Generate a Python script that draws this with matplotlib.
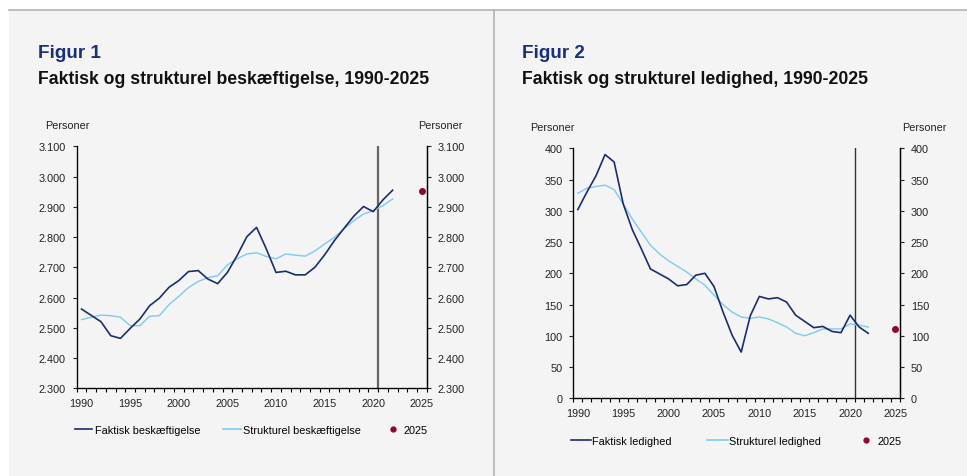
import matplotlib
matplotlib.use("Agg")
import matplotlib.pyplot as plt
from matplotlib.ticker import FuncFormatter, MultipleLocator, FixedLocator
from matplotlib.lines import Line2D
from matplotlib.patches import Rectangle

plt.rcParams['font.family'] = ['Liberation Sans', 'DejaVu Sans']

years = list(range(1990, 2023))

# Figur 1: beskæftigelse (1.000 personer)
faktisk_besk = [2562, 2541, 2520, 2474, 2465, 2498, 2529, 2573, 2598, 2634,
                2656, 2686, 2689, 2661, 2646, 2683, 2739, 2801, 2832, 2761,
                2683, 2687, 2675, 2675, 2700, 2741, 2788, 2829, 2869, 2901,
                2884, 2923, 2955]
struk_besk = [2527, 2535, 2542, 2540, 2535, 2507, 2507, 2538, 2540, 2577,
              2604, 2633, 2653, 2666, 2672, 2708, 2728, 2744, 2748, 2736,
              2728, 2744, 2740, 2737, 2754, 2777, 2799, 2827, 2854, 2876,
              2887, 2904, 2926]
besk_2025 = 2951

# Figur 2: ledighed (1.000 personer)
faktisk_led = [302, 330, 356, 390, 378, 311, 270, 239, 207, 199,
               191, 180, 182, 197, 200, 179, 138, 101, 74, 132,
               163, 159, 161, 154, 133, 123, 113, 115, 107, 105,
               133, 114, 104]
struk_led = [328, 336, 339, 341, 334, 311, 287, 266, 245, 231,
             220, 211, 202, 191, 181, 165, 150, 138, 130, 128,
             130, 127, 121, 114, 104, 100, 105, 111, 111, 111,
             119, 117, 114]
led_2025 = 111

NAVY = '#1c2d6e'
LIGHT = '#7ccbee'
RED = '#8c0a2c'
TITLE = '#1a3177'
BG = '#f4f4f4'
FS = 7.8

W, H = 967, 477
fig = plt.figure(figsize=(W / 100, H / 100), dpi=100, facecolor='white')

# background panel, top rule and divider
fig.patches.append(Rectangle((9 / W, 0), 1, (H - 11) / H, transform=fig.transFigure,
                             facecolor=BG, edgecolor='none', zorder=-10))
fig.lines.append(Line2D([9 / W, 1], [(H - 11) / H] * 2, transform=fig.transFigure,
                        color='#b4b4b4', lw=1.2, zorder=-5))
fig.lines.append(Line2D([494 / W] * 2, [0, (H - 11) / H], transform=fig.transFigure,
                        color='#b4b4b4', lw=1.2, zorder=-5))


def dk(v, pos):
    return f"{int(v):,}".replace(",", ".")


def panel(box, ylim, ystep, fakt, struk, pt2025, vline_col, vline_w, labels,
          pers_x, leg_x, hlen, cspace, htpad):
    l, t, r, b = box
    ax = fig.add_axes([l / W, (H - b) / H, (r - l) / W, (b - t) / H])
    ax.set_facecolor(BG)
    ax.plot(years, struk, color=LIGHT, lw=1.0, zorder=3)
    ax.plot(years, fakt, color=NAVY, lw=1.2, zorder=4)
    ax.plot([2025], [pt2025], 'o', color=RED, ms=4, zorder=5)
    ax.axvline(2020.5, color=vline_col, lw=vline_w, zorder=2)
    ax.set_xlim(1989.5, 2025.5)
    ax.set_ylim(*ylim)
    ax.yaxis.set_major_locator(MultipleLocator(ystep))
    ax.yaxis.set_major_formatter(FuncFormatter(dk))
    ax.xaxis.set_major_locator(FixedLocator(range(1990, 2026, 5)))
    ax.xaxis.set_minor_locator(FixedLocator([y + 0.5 for y in range(1989, 2026)]))
    ax.tick_params(axis='x', which='major', length=0, pad=7, labelsize=FS, colors='#222222')
    ax.tick_params(axis='x', which='minor', length=3, width=0.8, direction='out')
    ax.tick_params(axis='y', length=3, width=0.8, direction='out', pad=4.8,
                   labelsize=FS, colors='#222222')
    ax.spines['top'].set_visible(False)
    for s in ('left', 'bottom', 'right'):
        ax.spines[s].set_linewidth(0.9)
    ax2 = ax.twinx()
    ax2.set_ylim(*ylim)
    ax2.yaxis.set_major_locator(MultipleLocator(ystep))
    ax2.yaxis.set_major_formatter(FuncFormatter(dk))
    ax2.tick_params(axis='y', length=3, width=0.8, direction='out', pad=4.8,
                    labelsize=FS, colors='#222222')
    ax2.spines['top'].set_visible(False)
    ax2.spines['right'].set_linewidth(0.9)
    ax.text(pers_x[0], 1.087, 'Personer', transform=ax.transAxes, ha='center',
            va='center', fontsize=FS, color='#222222')
    ax.text(pers_x[1], 1.087, 'Personer', transform=ax.transAxes, ha='center',
            va='center', fontsize=FS, color='#222222')
    handles = [Line2D([], [], color=NAVY, lw=1.2),
               Line2D([], [], color=LIGHT, lw=1.2),
               Line2D([], [], color=RED, marker='o', ms=3.5, lw=0)]
    ax.legend(handles, labels, loc='upper left', bbox_to_anchor=(leg_x, -0.132),
              ncol=3, frameon=False, fontsize=FS, handlelength=hlen,
              handletextpad=htpad, columnspacing=cspace, borderaxespad=0)
    return ax


panel((76.7, 147.3, 426.7, 389.3), (2300, 3100), 100, faktisk_besk, struk_besk,
      besk_2025, '#666666', 1.6,
      ['Faktisk beskæftigelse', 'Strukturel beskæftigelse', '2025'],
      (-0.028, 1.039), -0.017, 1.6, 2.15, 0.2)
panel((573.3, 149.3, 900, 399.3), (0, 400), 50, faktisk_led, struk_led,
      led_2025, '#333333', 1.0,
      ['Faktisk ledighed', 'Strukturel ledighed', '2025'],
      (-0.064, 1.073), -0.02, 1.85, 3.3, 0.1)

fig.text(38 / W, 1 - 53 / H, 'Figur 1', fontsize=13.6, fontweight='bold',
         color=TITLE, va='center')
fig.text(38 / W, 1 - 80 / H, 'Faktisk og strukturel beskæftigelse, 1990-2025',
         fontsize=12.7, fontweight='bold', color='#111111', va='center')
fig.text(522 / W, 1 - 53 / H, 'Figur 2', fontsize=13.6, fontweight='bold',
         color=TITLE, va='center')
fig.text(522 / W, 1 - 80 / H, 'Faktisk og strukturel ledighed, 1990-2025',
         fontsize=12.7, fontweight='bold', color='#111111', va='center')

fig.savefig('out.png', dpi=100, facecolor=fig.get_facecolor())
